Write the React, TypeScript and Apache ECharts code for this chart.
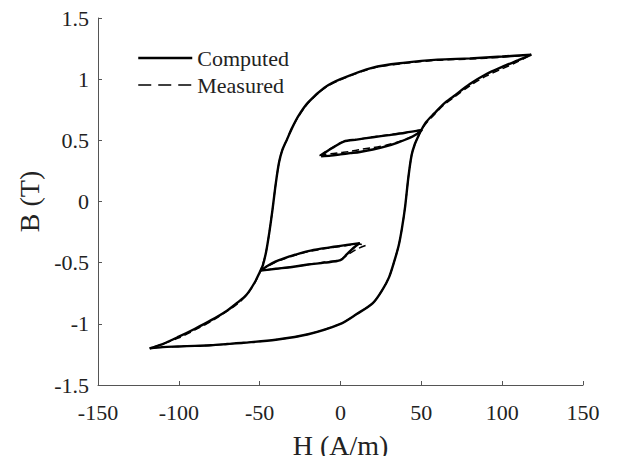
import React, { useEffect, useRef } from "react";
import * as echarts from "echarts";

// ---- Data ----
const xTicks = [-150, -100, -50, 0, 50, 100, 150];
const yTicks = [-1.5, -1, -0.5, 0, 0.5, 1, 1.5];

// Computed major loop, descending (upper) branch
const compDescH = [118, 100, 80, 60, 40, 20, 0, -10, -20, -26, -30, -33, -36, -38, -40, -42, -44, -46, -48, -50, -53, -58, -64, -70, -80, -90, -100, -110, -118];
const compDescB = [1.2, 1.185, 1.17, 1.16, 1.135, 1.095, 1.0, 0.93, 0.81, 0.7, 0.6, 0.51, 0.42, 0.32, 0.15, -0.06, -0.25, -0.41, -0.52, -0.58, -0.66, -0.76, -0.83, -0.89, -0.97, -1.04, -1.105, -1.165, -1.2];
// Computed major loop, ascending (lower) branch
const compAscH = [-118, -110, -100, -90, -80, -70, -60, -40, -20, 0, 10, 20, 26, 30, 33, 36, 38, 40, 42, 44, 46, 48, 50, 53, 58, 64, 70, 80, 90, 100, 110, 118];
const compAscB = [-1.2, -1.19, -1.185, -1.18, -1.175, -1.165, -1.155, -1.13, -1.085, -1.0, -0.92, -0.83, -0.72, -0.62, -0.5, -0.36, -0.22, -0.04, 0.2, 0.38, 0.47, 0.53, 0.585, 0.65, 0.72, 0.8, 0.86, 0.96, 1.04, 1.1, 1.155, 1.2];
// Computed upper minor loop
const compUpDescH = [50.5, 40, 30, 20, 10, 2, -4, -9, -12];
const compUpDescB = [0.585, 0.562, 0.543, 0.525, 0.506, 0.49, 0.445, 0.405, 0.37];
const compUpAscH = [-12, -6, 0, 6, 12, 20, 28, 35, 42, 47, 50.5];
const compUpAscB = [0.37, 0.375, 0.385, 0.395, 0.405, 0.425, 0.45, 0.48, 0.515, 0.55, 0.585];
// Computed lower minor loop
const compLoAscH = [-49.5, -45, -40, -35, -28, -20, -12, -4, 4, 12];
const compLoAscB = [-0.565, -0.525, -0.49, -0.465, -0.435, -0.405, -0.385, -0.37, -0.355, -0.34];
const compLoDescH = [12, 8, 4, 0, -10, -20, -30, -40, -49.5];
const compLoDescB = [-0.34, -0.38, -0.43, -0.48, -0.5, -0.515, -0.535, -0.55, -0.565];

// Measured major loop
const measDescH = [118, 100, 80, 60, 40, 20, 0, -10, -20, -26, -30, -33, -36, -38, -40, -42, -44, -46, -48, -50, -53, -58, -64, -70, -80, -90, -100, -110, -118];
const measDescB = [1.2, 1.18, 1.165, 1.155, 1.13, 1.09, 0.995, 0.925, 0.805, 0.695, 0.6, 0.51, 0.42, 0.32, 0.15, -0.06, -0.25, -0.41, -0.51, -0.58, -0.665, -0.765, -0.84, -0.895, -0.98, -1.05, -1.115, -1.165, -1.2];
const measAscH = [-118, -110, -100, -90, -80, -70, -60, -40, -20, 0, 10, 20, 26, 30, 33, 36, 38, 40, 42, 44, 46, 48, 50, 53, 58, 64, 70, 80, 90, 100, 110, 118];
const measAscB = [-1.2, -1.19, -1.185, -1.18, -1.175, -1.165, -1.155, -1.13, -1.085, -1.0, -0.92, -0.83, -0.72, -0.62, -0.5, -0.36, -0.22, -0.04, 0.2, 0.38, 0.47, 0.53, 0.585, 0.64, 0.71, 0.79, 0.85, 0.945, 1.025, 1.085, 1.145, 1.2];
// Measured upper minor loop
const measUpDescH = [50, 40, 30, 20, 10, 2, -4, -9, -13];
const measUpDescB = [0.585, 0.563, 0.545, 0.527, 0.507, 0.491, 0.45, 0.41, 0.375];
const measUpAscH = [-13, -6, 0, 6, 12, 20, 28, 35, 42, 47, 50];
const measUpAscB = [0.375, 0.39, 0.4, 0.41, 0.425, 0.44, 0.46, 0.485, 0.52, 0.55, 0.585];
// Measured lower minor loop
const measLoAscH = [-49.5, -45, -40, -35, -28, -20, -12, -4, 4, 10, 15.5];
const measLoAscB = [-0.565, -0.53, -0.495, -0.47, -0.44, -0.41, -0.39, -0.375, -0.36, -0.345, -0.36];
const measLoDescH = [15.5, 10, 5, 0, -10, -20, -30, -40, -49.5];
const measLoDescB = [-0.36, -0.39, -0.43, -0.475, -0.495, -0.515, -0.535, -0.55, -0.565];

const zip = (h: number[], b: number[]) => h.map((v, i) => [v, b[i]]);

const FONT = "'Liberation Serif', 'Times New Roman', serif";
const TEXT = "#222";

export default function App() {
  const ref = useRef<HTMLDivElement>(null);
  useEffect(() => {
    if (!ref.current) return;
    const chart = echarts.init(ref.current, null, { renderer: "svg" });

    const comp = (h: number[], b: number[]) => ({
      type: "line",
      name: "Computed",
      data: zip(h, b),
      showSymbol: false,
      symbol: "none",
      smooth: 0.3,
      z: 3,
      lineStyle: { color: "#000", width: 2.4, type: "solid" },
      itemStyle: { color: "#000" },
    });
    const meas = (h: number[], b: number[]) => ({
      type: "line",
      name: "Measured",
      data: zip(h, b),
      showSymbol: false,
      symbol: "none",
      smooth: 0.3,
      z: 2,
      lineStyle: { color: "#000", width: 1.5, type: [7, 4] },
      itemStyle: { color: "#000" },
    });

    chart.setOption({
      animation: false,
      backgroundColor: "#fff",
      grid: { left: 98, right: 36, top: 18, bottom: 75, containLabel: false },
      legend: {
        orient: "vertical",
        left: 132,
        top: 42,
        itemWidth: 54,
        itemHeight: 22,
        itemGap: 5,
        itemStyle: { opacity: 0, borderWidth: 0 },
        textStyle: { fontFamily: FONT, fontSize: 22, color: TEXT },
        data: [
          { name: "Computed", itemStyle: { opacity: 0 }, lineStyle: { color: "#000", width: 2.5, type: "solid" } },
          { name: "Measured", itemStyle: { opacity: 0 }, lineStyle: { color: "#000", width: 1.5, type: [13, 7] } },
        ],
      },
      xAxis: {
        type: "value",
        min: xTicks[0],
        max: xTicks[xTicks.length - 1],
        interval: 50,
        name: "H (A/m)",
        nameLocation: "middle",
        nameGap: 46,
        nameTextStyle: { fontFamily: FONT, fontSize: 28, color: TEXT },
        axisLine: { onZero: false, lineStyle: { color: "#555", width: 1 } },
        axisTick: { inside: true, length: 4, lineStyle: { color: "#555" } },
        axisLabel: { fontFamily: FONT, fontSize: 22, color: TEXT, margin: 16 },
        splitLine: { show: false },
      },
      yAxis: {
        type: "value",
        min: yTicks[0],
        max: yTicks[yTicks.length - 1],
        interval: 0.5,
        name: "B (T)",
        nameLocation: "middle",
        nameGap: 54,
        nameTextStyle: { fontFamily: FONT, fontSize: 28, color: TEXT },
        axisLine: { show: true, onZero: false, lineStyle: { color: "#555", width: 1 } },
        axisTick: { show: true, inside: true, length: 4, lineStyle: { color: "#555" } },
        axisLabel: { fontFamily: FONT, fontSize: 22, color: TEXT, margin: 9 },
        splitLine: { show: false },
      },
      series: [
        meas(measDescH, measDescB),
        meas(measAscH, measAscB),
        meas(measUpDescH, measUpDescB),
        meas(measUpAscH, measUpAscB),
        meas(measLoAscH, measLoAscB),
        meas(measLoDescH, measLoDescB),
        comp(compDescH, compDescB),
        comp(compAscH, compAscB),
        comp(compUpDescH, compUpDescB),
        comp(compUpAscH, compUpAscB),
        comp(compLoAscH, compLoAscB),
        comp(compLoDescH, compLoDescB),
      ],
    });
    return () => chart.dispose();
  }, []);
  return <div ref={ref} style={{ width: 619, height: 464, margin: -8 }} />;
}
